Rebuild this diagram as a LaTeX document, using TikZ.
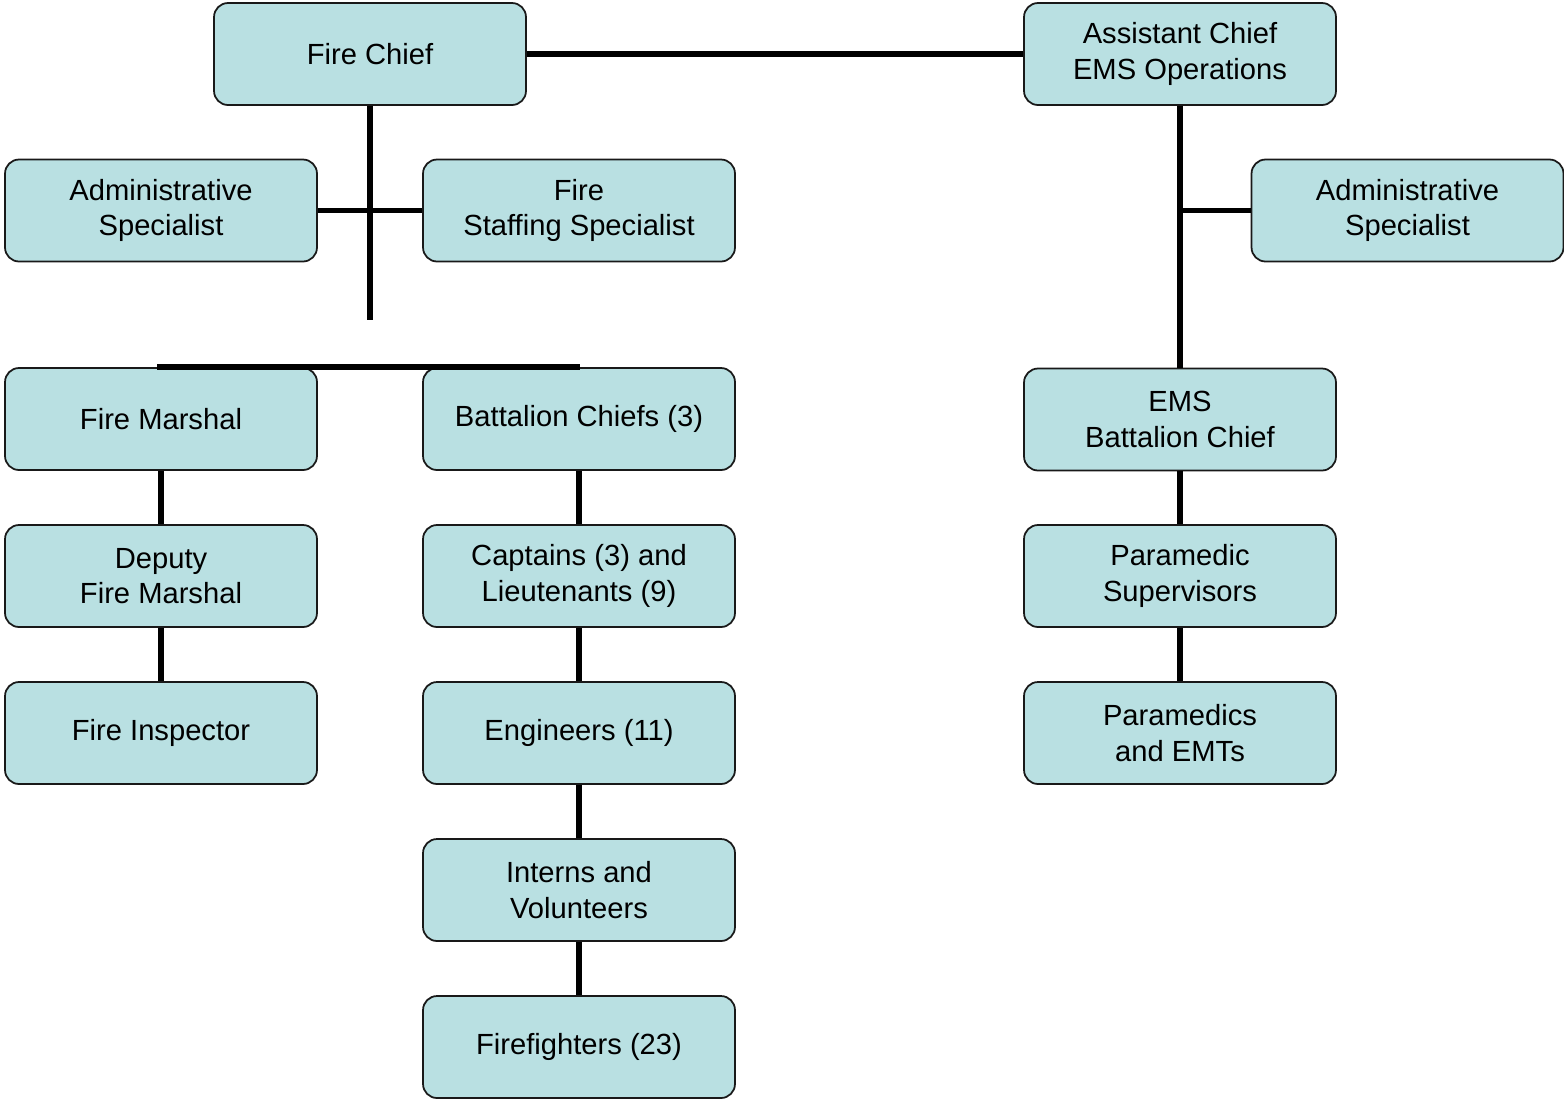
\documentclass[tikz,border=0pt]{standalone}
\usepackage{fontspec}
\setmainfont{Liberation Sans}
\definecolor{boxfill}{RGB}{185,224,226}
\tikzset{
  post/.style={draw=black!90, fill=boxfill, line width=1pt, rounded corners=0.28cm,
    minimum width=6.24cm, minimum height=2.04cm, inner sep=0pt, align=center,
    font=\fontsize{16.6}{20.2}\selectfont},
  link/.style={line width=3pt}
}
\begin{document}
\begin{tikzpicture}[x=0.02cm, y=-0.02cm]
        \useasboundingbox (0,0) rectangle (1564,1100);
        % top row
        \node[post] (chief) at (370,54) {Fire Chief};
        \node[post] (asst) at (1180,54) {Assistant Chief\\EMS Operations};
        \node[post] (admL) at (161,210.5) {Administrative\\Specialist};
        \node[post] (staff) at (579,210.5) {Fire\\Staffing Specialist};
        \node[post] (admR) at (1407.5,210.5) {Administrative\\Specialist};
        % fire side
        \node[post] (marshal) at (161,419) {Fire Marshal};
        \node[post] (deputy) at (161,576) {Deputy\\Fire Marshal};
        \node[post] (inspector) at (161,733) {Fire Inspector};
        \node[post] (batt) at (579,419) {Battalion Chiefs (3)};
        \node[post] (capt) at (579,576) {Captains (3) and\\Lieutenants (9)};
        \node[post] (eng) at (579,733) {Engineers (11)};
        \node[post] (interns) at (579,890) {Interns and\\Volunteers};
        \node[post] (ff) at (579,1047) {Firefighters (23)};
        % EMS side
        \node[post] (emsbc) at (1180,419.5) {EMS\\Battalion Chief};
        \node[post] (parasup) at (1180,576) {Paramedic\\Supervisors};
        \node[post] (para) at (1180,733) {Paramedics\\and EMTs};
        \coordinate (chiefEnd) at (370,320);
        \coordinate (barL) at (157,367);
        \coordinate (barR) at (580,367);
        \draw[link] (chief.east) -- (asst.west);
        \draw[link] (chief.south) -- (chiefEnd);
        \draw[link] (admL.east) -- (staff.west);
        \draw[link] (barL) -- (barR);
        \draw[link] (asst.south) -- (emsbc.north);
        \draw[link] (admR.west) -- (admR.west -| asst.south);
        \foreach \a/\b in {marshal/deputy, deputy/inspector, batt/capt, capt/eng, eng/interns, interns/ff, emsbc/parasup, parasup/para}
        {
                \draw[link] (\a.south) -- (\b.north);
        }
\end{tikzpicture}
\end{document}
